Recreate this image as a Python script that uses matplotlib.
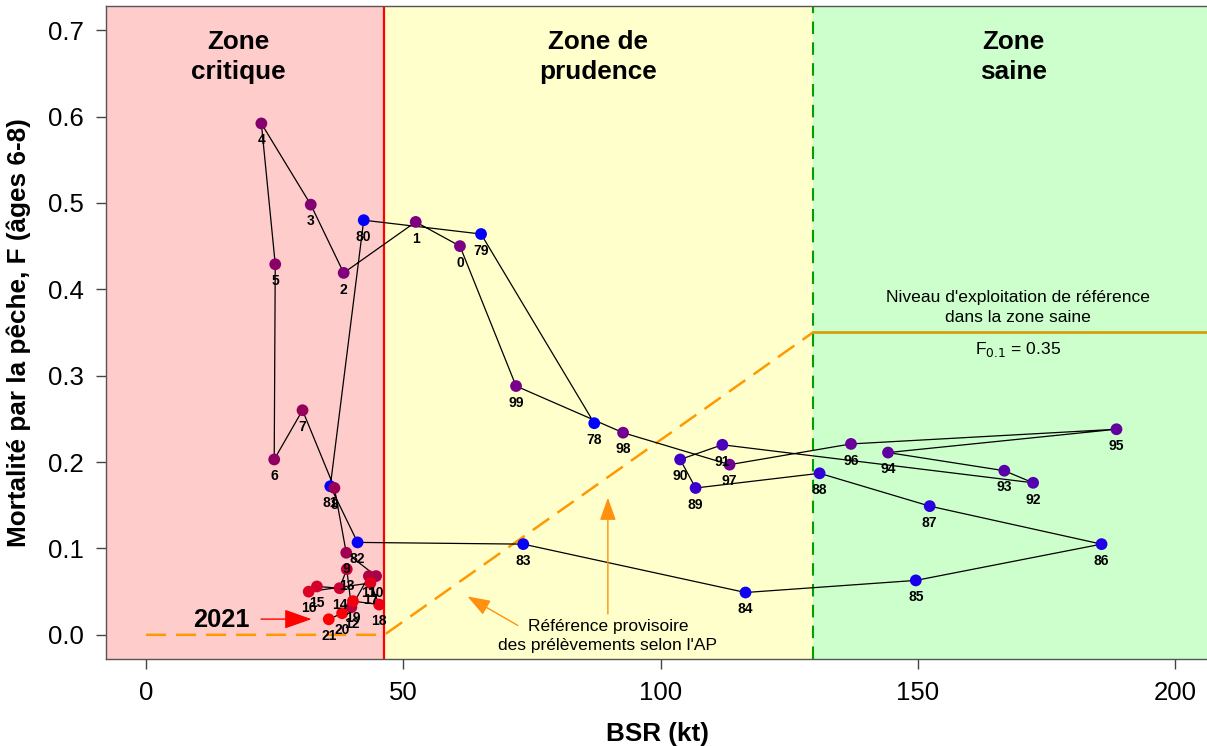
import numpy as np
import matplotlib.pyplot as plt
from matplotlib.colors import LinearSegmentedColormap

plt.rcParams['font.family'] = ['Liberation Sans', 'DejaVu Sans']

# --- DONNÉES ---
years = np.arange(1978, 2022)
bsr = [87.1, 65.1, 42.3, 35.8, 41.1, 73.3, 116.5, 149.6, 185.7, 152.3,
       130.9, 106.8, 103.8, 112.0, 172.4, 166.8, 144.2, 188.6, 137.0, 113.4,
       92.7, 71.9, 61.0, 52.4, 38.4, 32.0, 22.4, 25.1, 24.9, 30.4,
       36.6, 38.9, 44.7, 43.3, 39.9, 39.0, 37.6, 33.2, 31.6, 43.6,
       45.3, 40.2, 38.1, 35.5]
f_peche = [0.245, 0.464, 0.480, 0.172, 0.107, 0.105, 0.049, 0.063, 0.105, 0.149,
           0.187, 0.170, 0.203, 0.220, 0.176, 0.190, 0.211, 0.238, 0.221, 0.197,
           0.234, 0.288, 0.450, 0.478, 0.419, 0.498, 0.592, 0.429, 0.203, 0.260,
           0.170, 0.095, 0.068, 0.068, 0.032, 0.076, 0.054, 0.056, 0.050, 0.060,
           0.035, 0.039, 0.025, 0.018]

pr_lim = 46.3      # point de référence limite
pr_sup = 129.6     # point de référence supérieur
f_ref = 0.35       # F0.1

# --- COULEURS (bleu -> violet -> rouge selon l'année) ---
cmap = LinearSegmentedColormap.from_list('annees', [
    (0.00, '#0000FF'), (0.12, '#0800F8'), (0.25, '#3A00D0'),
    (0.35, '#5A00A8'), (0.50, '#7A0088'), (0.62, '#880068'),
    (0.72, '#A00050'), (0.85, '#D00030'), (1.00, '#FF0000')])
t = (years - years.min()) / (years.max() - years.min())
couleurs = cmap(t)

# --- FIGURE ---
fig = plt.figure(figsize=(12.07, 7.46), dpi=100)
ax = fig.add_axes([0.0878, 0.1166, 0.9135, 0.8754])
ax.set_xlim(-7.8, 206.5)
ax.set_ylim(-0.028, 0.728)

# zones
ax.axvspan(-10, pr_lim, color='#FFCCCC', zorder=0, lw=0)
ax.axvspan(pr_lim, pr_sup, color='#FFFFCC', zorder=0, lw=0)
ax.axvspan(pr_sup, 220, color='#CCFFCC', zorder=0, lw=0)
ax.axvline(pr_lim, color='red', lw=1.6, zorder=1)
ax.axvline(pr_sup, color='#00A000', lw=1.5, ls=(0, (6, 4)), zorder=1)

# référence de prélèvement
ax.plot([0, pr_lim, pr_sup], [0, 0, f_ref], color='#FF9900', lw=1.8,
        ls=(0, (8, 4)), zorder=2)
ax.plot([pr_sup, 210], [f_ref, f_ref], color='#D4A010', lw=2, zorder=2)

# trajectoire
ax.plot(bsr, f_peche, color='black', lw=0.9, zorder=3)
ax.scatter(bsr, f_peche, c=couleurs, s=72, zorder=4, edgecolors='none')
for yr, x, y in zip(years, bsr, f_peche):
    ax.annotate(str(yr % 100), (x, y), xytext=(0, -7), textcoords='offset points',
                ha='center', va='top', fontsize=10, fontweight='bold', zorder=5)

# titres des zones
kw = dict(ha='center', va='center', fontsize=18.8, fontweight='bold', linespacing=1.32)
ax.text(17.9, 0.669, 'Zone\ncritique', **kw)
ax.text(87.9, 0.669, 'Zone de\nprudence', **kw)
ax.text(168.5, 0.669, 'Zone\nsaine', **kw)

ax.text(169.5, 0.379, "Niveau d'exploitation de référence\ndans la zone saine",
        ha='center', va='center', fontsize=12.6, linespacing=1.35)
ax.text(169.5, 0.330, r'F$_{0.1}$ = 0.35', ha='center', va='center', fontsize=12.6)

# 2021
ax.text(14.7, 0.017, '2021', ha='center', va='center', fontsize=18.3, fontweight='bold')
ax.annotate('', xy=(32.7, 0.0182), xytext=(21.8, 0.0182),
            arrowprops=dict(arrowstyle='-|>,head_length=1.7,head_width=0.6',
                            color='red', lw=1))

# AP
ax.text(89.75, -0.0015, "Référence provisoire\ndes prélèvements selon l'AP",
        ha='center', va='center', fontsize=12.5, linespacing=1.32)
orange = dict(arrowstyle='-|>,head_length=1.4,head_width=0.5',
              color='#FF9010', lw=1)
ax.annotate('', xy=(62.0, 0.046), xytext=(72.7, 0.0093), arrowprops=orange)
ax.annotate('', xy=(89.75, 0.162), xytext=(89.75, 0.021), arrowprops=orange)

# axes
ax.set_xticks([0, 50, 100, 150, 200])
ax.set_yticks(np.arange(0, 0.71, 0.1))
ax.yaxis.set_major_formatter(plt.FormatStrFormatter('%.1f'))
ax.tick_params(labelsize=18.5, length=7, width=1, color='#444444', pad=9)
for s in ax.spines.values():
    s.set_color('#555555')
    s.set_linewidth(1)
ax.set_xlabel('BSR (kt)', fontsize=18.8, fontweight='bold', labelpad=12)
ax.set_ylabel('Mortalité par la pêche, F (âges 6-8)', fontsize=18.8,
              fontweight='bold', labelpad=12)

fig.savefig('out.png', dpi=100)
